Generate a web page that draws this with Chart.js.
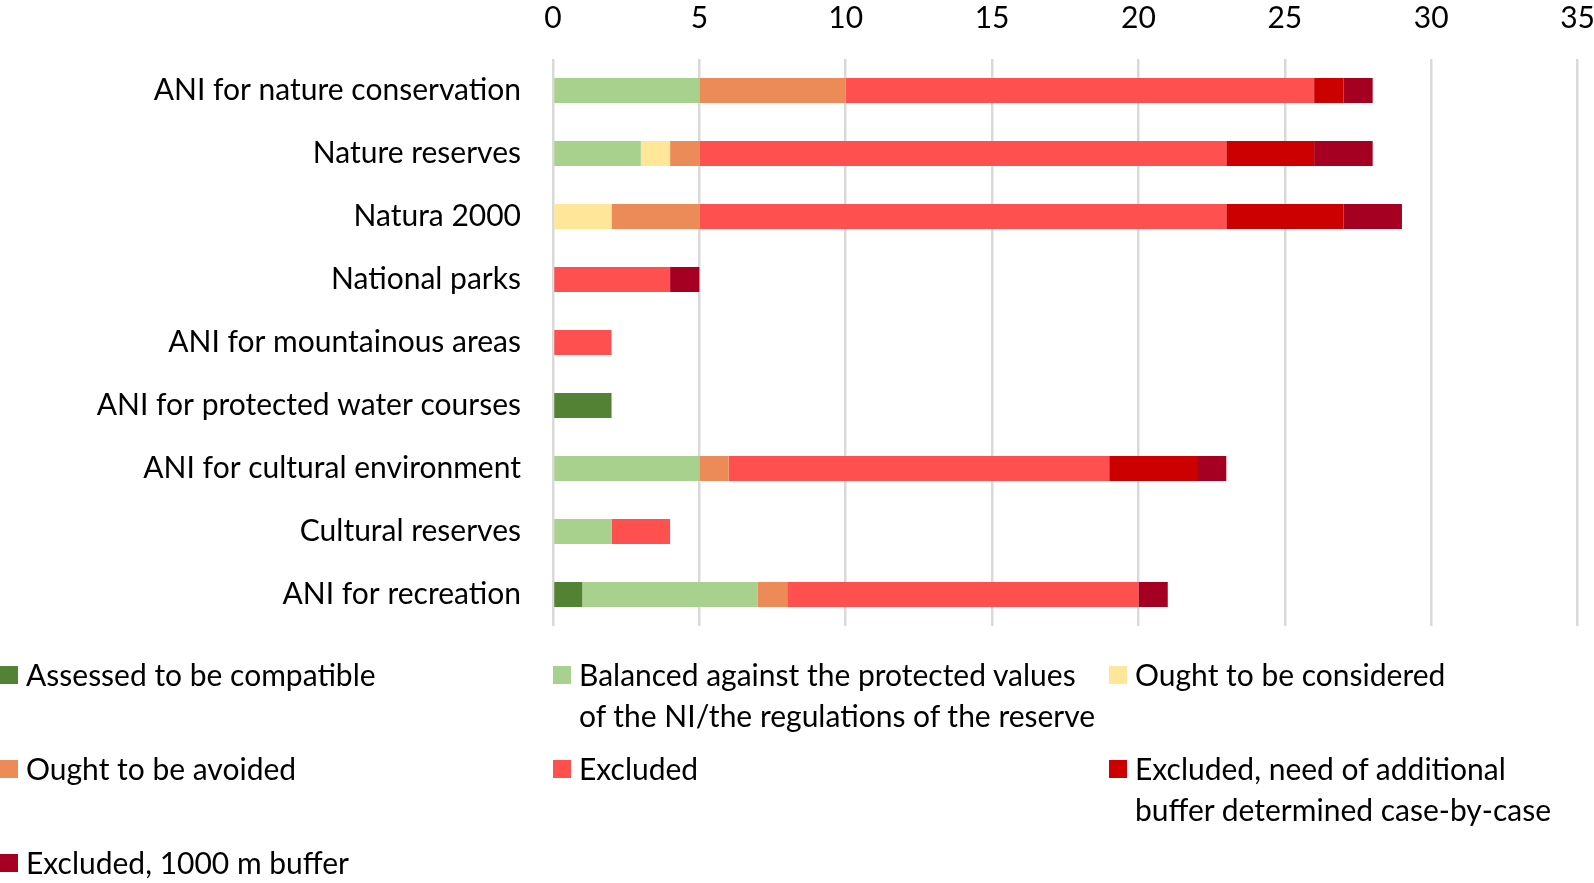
<!DOCTYPE html>
<html>
<head>
<meta charset="utf-8">
<script src="https://cdn.jsdelivr.net/npm/chart.js@4"></script>
<style>
  body { margin: 0; background: #fff; width: 1594px; height: 883px; overflow: hidden; position: relative; font-family: Lato, "Open Sans", sans-serif; }
  #chart { position: absolute; left: 0; top: 0; }
  #legend { position: absolute; left: 0; top: 654px; display: grid; grid-template-columns: 553px 556px 485px; grid-auto-rows: 94px; }
  .item { display: flex; align-items: flex-start; font-size: 30px; line-height: 41px; color: #000; white-space: nowrap; }
  .box { width: 18px; height: 18px; margin-top: 12px; margin-right: 8px; flex: none; }
</style>
</head>
<body>
<canvas id="chart" width="1618" height="668"></canvas>
<div id="legend"></div>
<script>
// categories (top to bottom)
const categories = [
    "ANI for nature conservation",
    "Nature reserves",
    "Natura 2000",
    "National parks",
    "ANI for mountainous areas",
    "ANI for protected water courses",
    "ANI for cultural environment",
    "Cultural reserves",
    "ANI for recreation"
];

// legend text, "\n" marks the line break used in the legend
const seriesNames = [
    "Assessed to be compatible",
    "Balanced against the protected values\nof the NI/the regulations of the reserve",
    "Ought to be considered",
    "Ought to be avoided",
    "Excluded",
    "Excluded, need of additional\nbuffer determined case-by-case",
    "Excluded, 1000 m buffer"
];

const seriesColors = ["#548235", "#A9D18E", "#FFE699", "#EC8B57", "#FF5050", "#CC0000", "#A50021"];

const compatible     = [0, 0, 0, 0, 0, 2, 0, 0, 1];
const balanced       = [5, 3, 0, 0, 0, 0, 5, 2, 6];
const considered     = [0, 1, 2, 0, 0, 0, 0, 0, 0];
const avoided        = [5, 1, 3, 0, 0, 0, 1, 0, 1];
const excluded       = [16, 18, 18, 4, 2, 0, 13, 2, 12];
const excludedBuffer = [1, 3, 4, 0, 0, 0, 3, 0, 0];
const excluded1000   = [1, 2, 2, 1, 0, 0, 1, 0, 1];

const seriesValues = [compatible, balanced, considered, avoided, excluded, excludedBuffer, excluded1000];

const xMin = 0, xMax = 35, xStep = 5;

const font = { family: "Lato, 'Open Sans', sans-serif", size: 30 };

new Chart(document.getElementById("chart"), {
    type: "bar",
    data: {
        labels: categories,
        datasets: seriesValues.map((vals, i) => ({
            label: seriesNames[i].replace("\n", " "),
            data: vals,
            backgroundColor: seriesColors[i],
            borderWidth: 0,
            categoryPercentage: 1,
            barPercentage: 0.4
        }))
    },
    options: {
        indexAxis: "y",
        responsive: false,
        animation: false,
        layout: { padding: { top: 0, right: 16, bottom: 14, left: 0 } },
        plugins: { legend: { display: false }, tooltip: { enabled: false } },
        scales: {
            x: {
                position: "top",
                stacked: true,
                min: xMin,
                max: xMax,
                ticks: { stepSize: xStep, font: font, color: "#000", padding: 23 },
                grid: { color: "#d9d9d9", lineWidth: 2.5, drawTicks: false },
                border: { display: false },
                afterFit: scale => { scale.height = 59; }
            },
            y: {
                stacked: true,
                ticks: { font: font, color: "#000", padding: 24 },
                grid: { display: false },
                border: { display: false },
                afterFit: scale => { scale.width = 553; }
            }
        }
    }
});

// legend, built from the same series arrays
const legend = document.getElementById("legend");
seriesNames.forEach((name, i) => {
    const item = document.createElement("div");
    item.className = "item";
    const box = document.createElement("span");
    box.className = "box";
    box.style.background = seriesColors[i];
    const text = document.createElement("span");
    text.innerHTML = name.split("\n").join("<br>");
    item.appendChild(box);
    item.appendChild(text);
    legend.appendChild(item);
});
</script>
</body>
</html>
